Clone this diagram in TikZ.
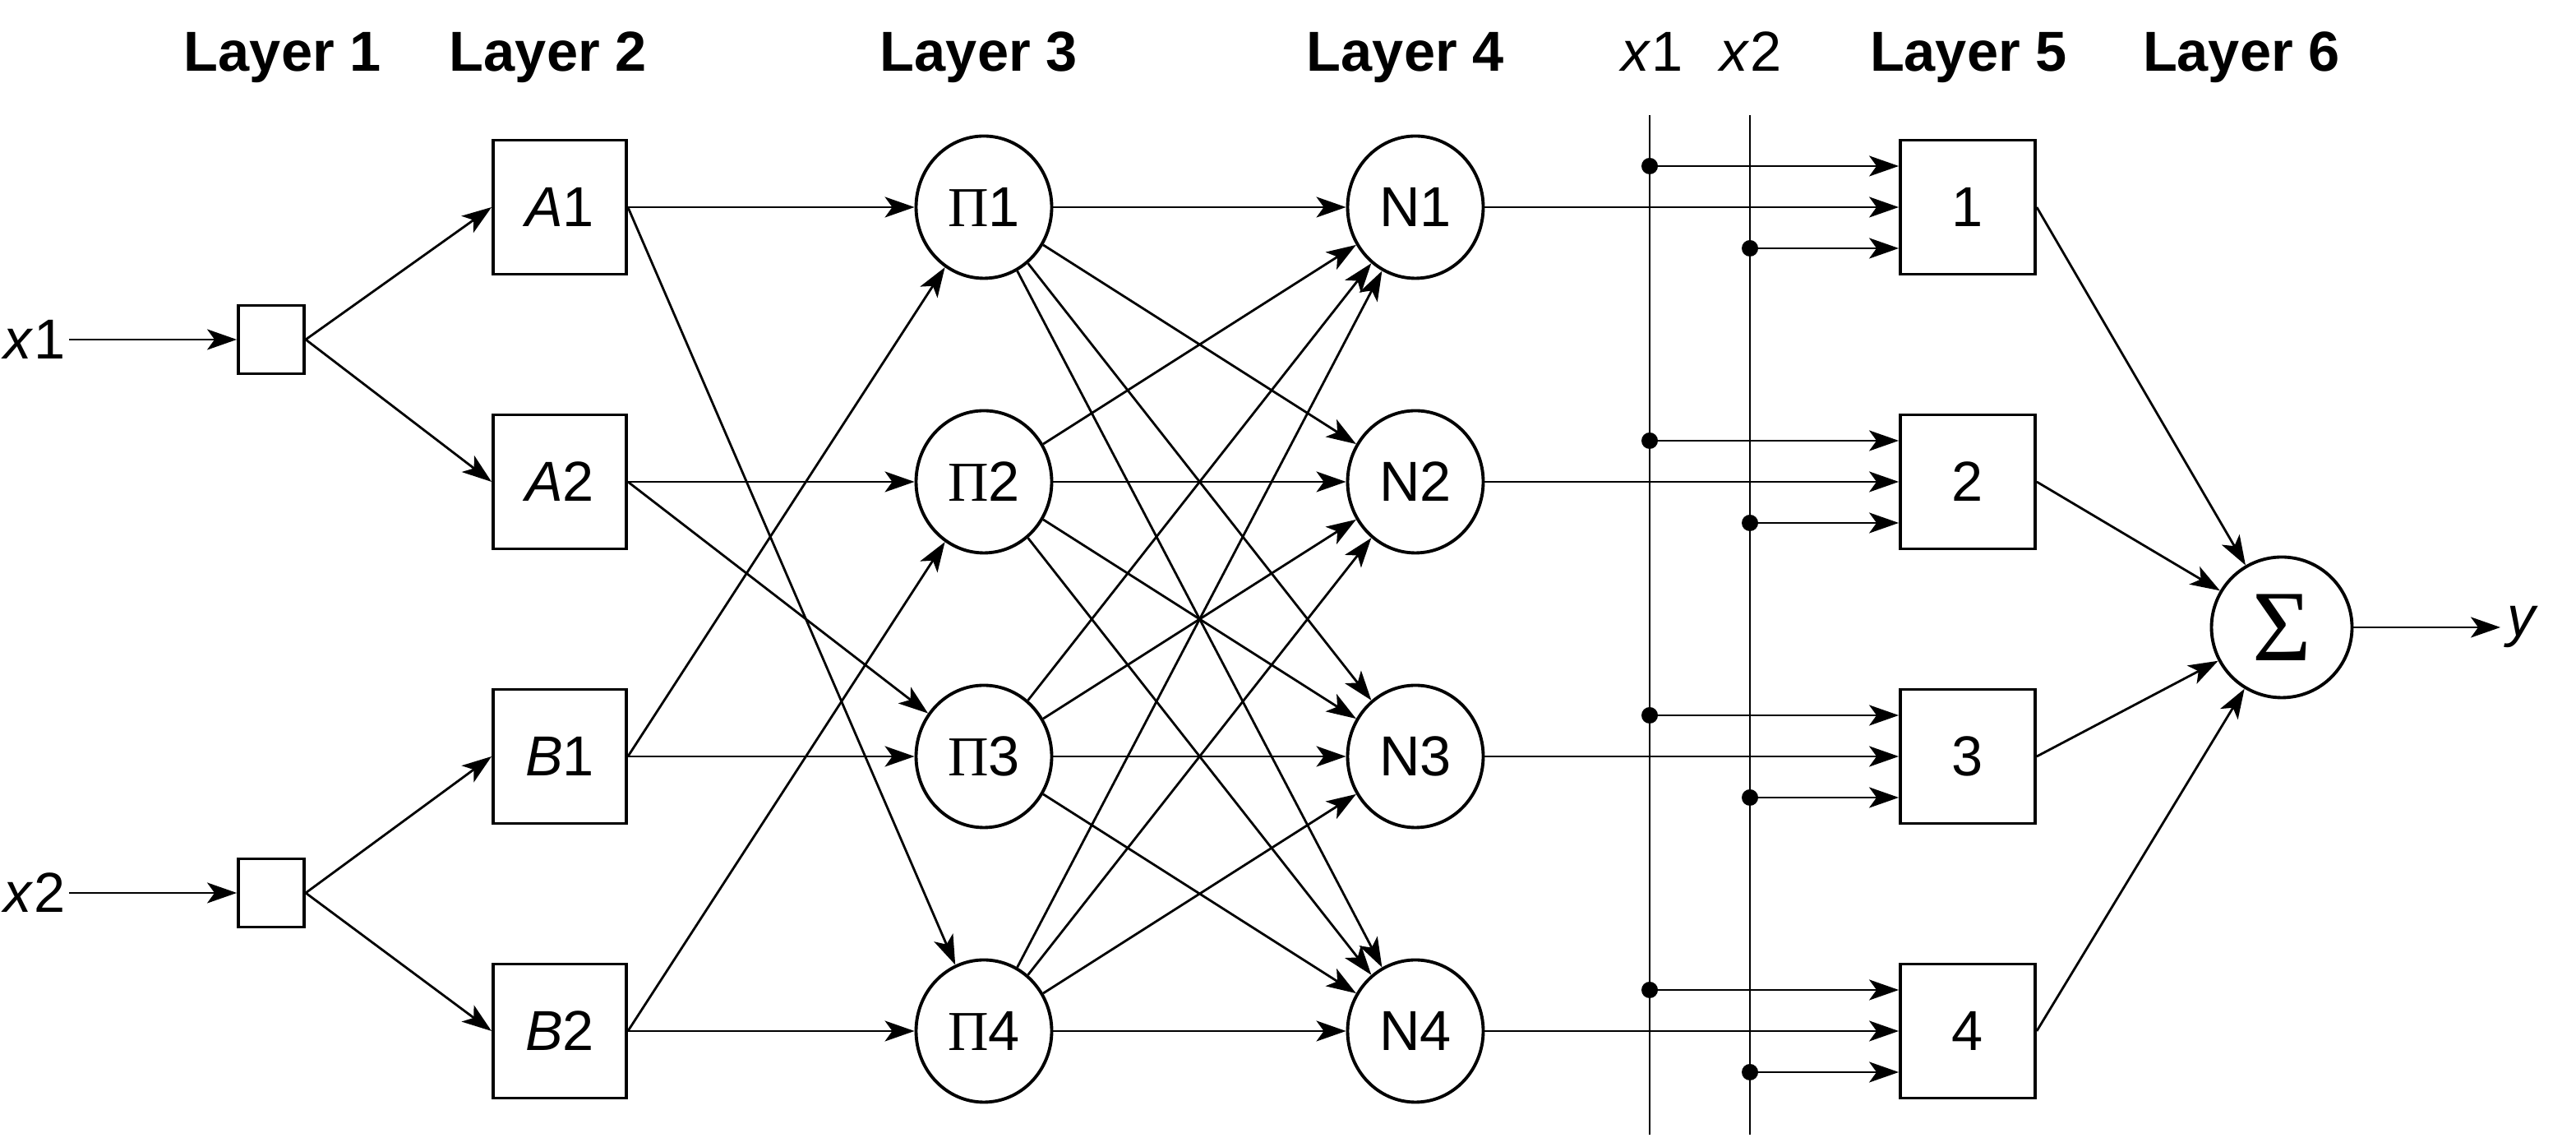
\documentclass[tikz,border=0pt]{standalone}
\usepackage{fontspec}
\setmainfont{Liberation Sans}
\newfontfamily\greekfont{Liberation Serif}
\usetikzlibrary{arrows.meta,shapes.geometric}

\begin{document}
\begin{tikzpicture}[>={Stealth[length=3.6mm,width=2.5mm,inset=0.9mm]},
    font=\fontsize{19.5}{23}\selectfont,line width=0.8pt,
    box/.style={draw,line width=1.1pt,minimum width=1.62cm,
      minimum height=1.63cm,inner sep=0pt},
    unit/.style={draw,ellipse,line width=1.1pt,minimum width=1.65cm,
      minimum height=1.73cm,inner sep=0pt},
    layer/.style={font=\fontsize{19.5}{23}\selectfont\bfseries,anchor=base}]
  \useasboundingbox (0,0) rectangle (31.34,13.95);

  % titles
  \foreach \n/\x in {1/3.44,2/6.67,3/11.91,4/17.10,5/23.95,6/27.27}
    \node[layer] (title\n) at (\x,13.08) {Layer \n};
  \node[anchor=base] (top1) at (20.10,13.08) {\textit{x}1};
  \node[anchor=base] (top2) at (21.30,13.08) {\textit{x}2};

  % layer 1
  \node[inner sep=1pt] (in1) at (0.42,9.82) {\textit{x}1};
  \node[inner sep=1pt] (in2) at (0.42,3.09) {\textit{x}2};
  \node[box,minimum width=0.8cm,minimum height=0.83cm] (s1) at (3.30,9.82) {};
  \node[box,minimum width=0.8cm,minimum height=0.83cm] (s2) at (3.30,3.09) {};
  \draw[->] (in1) -- (s1);
  \draw[->] (in2) -- (s2);

  % layer 2
  \node[box] (A1) at (6.81,11.43) {\textit{A}1};
  \node[box] (A2) at (6.81,8.09) {\textit{A}2};
  \node[box] (B1) at (6.81,4.75) {\textit{B}1};
  \node[box] (B2) at (6.81,1.41) {\textit{B}2};
  \draw[->] (s1.east) -- (A1.west);
  \draw[->] (s1.east) -- (A2.west);
  \draw[->] (s2.east) -- (B1.west);
  \draw[->] (s2.east) -- (B2.west);

  % layers 3, 4 and 5
  \coordinate (v1top) at (20.07,12.55);
  \coordinate (v1bot) at (20.07,0.15);
  \coordinate (v2top) at (21.29,12.55);
  \coordinate (v2bot) at (21.29,0.15);
  \draw (v1top) -- (v1bot);
  \draw (v2top) -- (v2bot);
  \foreach \i/\y in {1/11.43,2/8.09,3/4.75,4/1.41} {
    \node[unit] (P\i) at (11.97,\y) {{\greekfont Π}\i};
    \node[unit] (N\i) at (17.22,\y) {N\i};
    \node[box,minimum width=1.64cm] (R\i) at (23.94,\y) {\i};
    \coordinate (d1\i) at (20.07,\y+0.5);
    \coordinate (d2\i) at (21.29,\y-0.5);
    \fill (d1\i) circle (0.1) (d2\i) circle (0.1);
    \draw[->] (d1\i) -- (R\i.west |- d1\i);
    \draw[->] (d2\i) -- (R\i.west |- d2\i);
    \draw[->] (N\i) -- (R\i);
  }
  \draw[->] (A1) -- (P1);
  \draw[->] (A1.east) -- (P4);
  \draw[->] (A2) -- (P2);
  \draw[->] (A2.east) -- (P3);
  \draw[->] (B1) -- (P3);
  \draw[->] (B1.east) -- (P1);
  \draw[->] (B2) -- (P4);
  \draw[->] (B2.east) -- (P2);
  \foreach \i in {1,...,4}
    \foreach \j in {1,...,4}
      \draw[->] (P\i) -- (N\j);

  % layer 6
  \node[draw,circle,line width=1.1pt,minimum size=1.71cm,inner sep=0pt,
    font=\greekfont\fontsize{35}{35}\selectfont] (sum) at (27.76,6.32) {Σ};
  \foreach \i in {1,...,4}
    \draw[->] (R\i.east) -- (sum);
  \node[anchor=west,inner sep=2pt] (out) at (30.42,6.32) {\textit{y}};
  \draw[->] (sum) -- (out);
\end{tikzpicture}
\end{document}
